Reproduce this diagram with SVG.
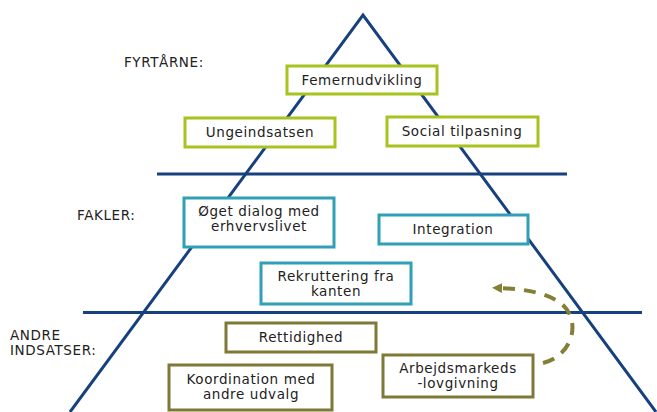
<svg xmlns="http://www.w3.org/2000/svg" width="657" height="412" viewBox="0 0 657 412">
<style>
.t{font-family:"DejaVu Sans",Verdana,sans-serif;font-size:13.5px;fill:#222;letter-spacing:0.6px;}
.c{text-anchor:middle;}
.b{fill:#fff;stroke-width:3;}
.g{stroke:#A6C31F;}
.q{stroke:#2FA0B5;}
.o{stroke:#7E7936;}
.nv{stroke:#17407E;stroke-width:3;fill:none;}
</style>
<defs>
<marker id="ah" markerUnits="userSpaceOnUse" markerWidth="12" markerHeight="12" refX="2" refY="5" orient="auto">
<path d="M0,0 L10,5 L0,10 z" fill="#857E35"/>
</marker>
</defs>
<rect width="657" height="412" fill="#fff"/>
<g id="pyramid">
<polyline class="nv" points="70,412 363,15 656,412" stroke-linejoin="miter"/>
<line class="nv" x1="157" y1="174" x2="567" y2="174"/>
<line class="nv" x1="83" y1="312.5" x2="642" y2="312.5"/>
</g>
<g id="labels">
<text class="t" x="124" y="67">FYRTÅRNE:</text>
<text class="t" x="77" y="220">FAKLER:</text>
<text class="t" x="10" y="340">ANDRE</text>
<text class="t" x="10" y="355">INDSATSER:</text>
</g>
<g id="connectors">
<path d="M543,363 C572,356 582,322 562,304 C548,293 525,289 500,288" fill="none" stroke="#857E35" stroke-width="4" stroke-dasharray="12,9" marker-end="url(#ah)"/>
</g>
<g id="femernudvikling">
<rect class="b g" x="287" y="66" width="150" height="28"/>
<text class="t c" x="362" y="85">Femernudvikling</text>
</g>
<g id="ungeindsatsen">
<rect class="b g" x="185" y="118" width="150" height="29"/>
<text class="t c" x="260" y="137">Ungeindsatsen</text>
</g>
<g id="social">
<rect class="b g" x="387" y="117" width="151" height="29"/>
<text class="t c" x="462" y="136">Social tilpasning</text>
</g>
<g id="dialog">
<rect class="b q" x="184" y="198" width="150" height="49"/>
<text class="t c" x="259" y="216">Øget dialog med</text>
<text class="t c" x="259" y="231">erhvervslivet</text>
</g>
<g id="integration">
<rect class="b q" x="379" y="215" width="149" height="29"/>
<text class="t c" x="453" y="234">Integration</text>
</g>
<g id="rekruttering">
<rect class="b q" x="261" y="263" width="150" height="41"/>
<text class="t c" x="336" y="281">Rekruttering fra</text>
<text class="t c" x="336" y="296">kanten</text>
</g>
<g id="rettidighed">
<rect class="b o" x="226" y="323" width="150" height="29"/>
<text class="t c" x="301" y="342">Rettidighed</text>
</g>
<g id="koordination">
<rect class="b o" x="169" y="365" width="163" height="45"/>
<text class="t c" x="251" y="384">Koordination med</text>
<text class="t c" x="251" y="399">andre udvalg</text>
</g>
<g id="arbejdsmarked">
<rect class="b o" x="383" y="355" width="150" height="42"/>
<text class="t c" x="458" y="373">Arbejdsmarkeds</text>
<text class="t c" x="458" y="388">-lovgivning</text>
</g>
</svg>
